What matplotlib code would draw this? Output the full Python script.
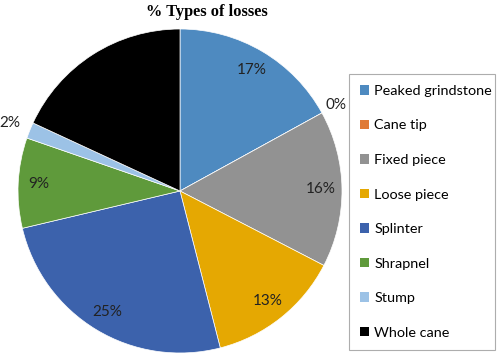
import matplotlib.pyplot as plt

categories = ["Peaked grindstone", "Cane tip", "Fixed piece", "Loose piece",
              "Splinter", "Shrapnel", "Stump", "Whole cane"]
shares = [17.0, 0.0, 15.6, 13.4, 25.3, 9.0, 1.6, 18.1]
colors = ["#4E8AC0", "#E07A35", "#929292", "#E5A802",
          "#3C62AC", "#5F9A3B", "#9CC2E6", "#000000"]

plt.rcParams["font.family"] = ["Lato", "DejaVu Sans"]

fig = plt.figure(figsize=(5.0, 3.58), dpi=100)
ax = fig.add_axes([0.036, 0.014, 0.648, 0.905])

wedges, texts, autotexts = ax.pie(
    shares, colors=colors, startangle=90, counterclock=False,
    autopct=lambda p: f"{p:.0f}%", pctdistance=0.87,
    wedgeprops={"edgecolor": "white", "linewidth": 0.5},
    textprops={"fontsize": 11, "color": "#222222"},
)
# small slices get their labels outside the pie
for i, dist in [(1, 1.10), (6, 1.13)]:
    x, y = autotexts[i].get_position()
    scale = dist / 0.87
    autotexts[i].set_position((x * scale, y * scale))
autotexts[-1].set_color("black")
ax.set_xlim(-1, 1)
ax.set_ylim(-1, 1)

fig.text(0.414, 0.99, "% Types of losses", ha="center", va="top",
         fontsize=11.8, fontweight="bold", family="Liberation Serif")

leg = fig.legend(wedges, categories, loc="upper left",
                 bbox_to_anchor=(0.698, 0.793, 0.292, 0.0), mode="expand",
                 fontsize=10.4, frameon=True, fancybox=False,
                 handlelength=0.65, handleheight=0.65, handletextpad=0.35,
                 labelspacing=1.56, borderpad=0.75, borderaxespad=0)
leg.get_frame().set_edgecolor("#999999")
leg.get_frame().set_linewidth(0.8)
for h in leg.legend_handles:
    h.set_edgecolor("none")

fig.savefig("out.png", dpi=100)
